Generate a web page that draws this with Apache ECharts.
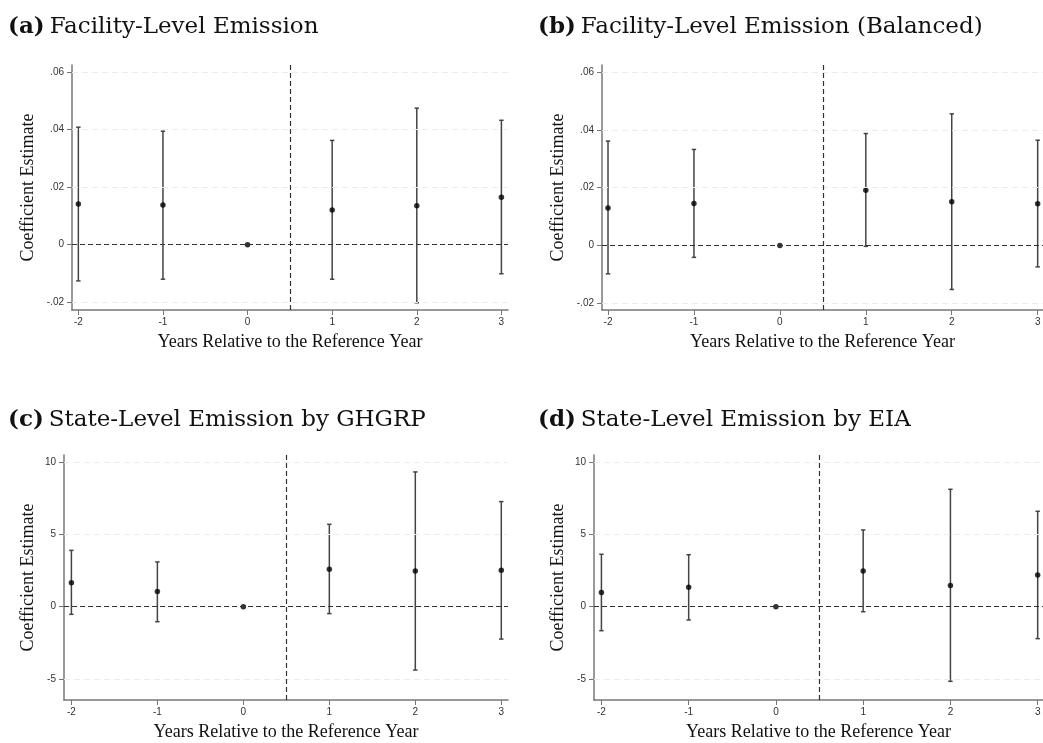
<!DOCTYPE html>
<html>
<head>
<meta charset="utf-8">
<script src="https://cdn.jsdelivr.net/npm/echarts@6/dist/echarts.min.js"></script>
<style>
  html, body { margin: 0; padding: 0; background: #fff; }
  #chart { width: 1043px; height: 743px; }
</style>
</head>
<body>
<div id="chart"></div>
<script>
// years relative to the reference year
var relYears = [-2, -1, 0, 1, 2, 3];
var xTickVals = [-2, -1, 0, 1, 2, 3];

// (a) facility-level emission
var estA = [0.0141, 0.0138, 0, 0.0120, 0.0135, 0.0165];
var loA  = [-0.0126, -0.0120, 0, -0.0120, -0.0202, -0.0101];
var hiA  = [0.0408, 0.0394, 0, 0.0362, 0.0474, 0.0432];

// (b) facility-level emission, balanced
var estB = [0.0130, 0.0145, 0, 0.0191, 0.0151, 0.0144];
var loB  = [-0.0098, -0.0041, 0, -0.0003, -0.0152, -0.0074];
var hiB  = [0.0361, 0.0332, 0, 0.0387, 0.0455, 0.0364];

// (c) state-level emission by GHGRP
var estC = [1.66, 1.04, 0, 2.58, 2.47, 2.51];
var loC  = [-0.53, -1.04, 0, -0.48, -4.38, -2.24];
var hiC  = [3.89, 3.09, 0, 5.69, 9.31, 7.26];

// (d) state-level emission by EIA
var estD = [0.97, 1.34, 0, 2.47, 1.47, 2.19];
var loD  = [-1.66, -0.92, 0, -0.35, -5.16, -2.21];
var hiD  = [3.62, 3.59, 0, 5.30, 8.11, 6.59];

var yTicksSmall = [-0.02, 0, 0.02, 0.04, 0.06];
var yTicksLarge = [-5, 0, 5, 10];

var panelTitles = [
  ['(a)', 'Facility-Level Emission'],
  ['(b)', 'Facility-Level Emission (Balanced)'],
  ['(c)', 'State-Level Emission by GHGRP'],
  ['(d)', 'State-Level Emission by EIA']
];

var panels = [
  {est: estA, lo: loA, hi: hiA, ticks: yTicksSmall, grid: {left: 72, top: 65, width: 436, height: 245}, xr: [-2.075, 3.078], yr: [-0.0227, 0.0624], tl: [8, 16], gap: 35},
  {est: estB, lo: loB, hi: hiB, ticks: yTicksSmall, grid: {left: 602, top: 65, width: 441, height: 245}, xr: [-2.07, 3.062], yr: [-0.0223, 0.0624], tl: [538, 16], gap: 35},
  {est: estC, lo: loC, hi: hiC, ticks: yTicksLarge, grid: {left: 64, top: 455, width: 444, height: 245}, xr: [-2.086, 3.078], yr: [-6.45, 10.48], tl: [8, 409], gap: 27},
  {est: estD, lo: loD, hi: hiD, ticks: yTicksLarge, grid: {left: 594, top: 455, width: 449, height: 245}, xr: [-2.085, 3.061], yr: [-6.45, 10.48], tl: [538, 409], gap: 27}
];

function stataLabel(v) {
  if (v === 0) return '0';
  var s = Math.abs(v) < 1 ? v.toFixed(2) : String(v);
  return s.replace(/^(-?)0\./, '$1.');
}

function renderErr(params, api) {
  var x = api.value(0), lo = api.value(1), hi = api.value(2);
  if (lo === hi) return;
  var pLo = api.coord([x, lo]);
  var pHi = api.coord([x, hi]);
  var w = 2.2;
  var st = {stroke: '#444', lineWidth: 1.5};
  return {
    type: 'group',
    children: [
      {type: 'line', shape: {x1: pLo[0], y1: pLo[1], x2: pHi[0], y2: pHi[1]}, style: st},
      {type: 'line', shape: {x1: pLo[0] - w, y1: pLo[1], x2: pLo[0] + w, y2: pLo[1]}, style: st},
      {type: 'line', shape: {x1: pHi[0] - w, y1: pHi[1], x2: pHi[0] + w, y2: pHi[1]}, style: st}
    ]
  };
}

var option = {
  animation: false,
  backgroundColor: '#fff',
  title: [],
  grid: [],
  xAxis: [],
  yAxis: [],
  series: []
};

panels.forEach(function (p, i) {
  option.title.push({
    left: p.tl[0],
    top: p.tl[1],
    padding: 0,
    text: '{b|' + panelTitles[i][0] + '} {n|' + panelTitles[i][1] + '}',
    textStyle: {
      rich: {
        b: {fontFamily: 'DejaVu Serif', fontWeight: 'bold', fontSize: 23, color: '#111'},
        n: {fontFamily: 'DejaVu Serif', fontWeight: 'normal', fontSize: 23, color: '#111'}
      }
    }
  });

  option.grid.push(Object.assign({outerBoundsMode: 'none', containLabel: false}, p.grid));

  option.xAxis.push({
    type: 'value',
    gridIndex: i,
    min: p.xr[0],
    max: p.xr[1],
    name: 'Years Relative to the Reference Year',
    nameLocation: 'middle',
    nameGap: 23,
    nameTextStyle: {fontFamily: 'Liberation Serif', fontSize: 18, color: '#111'},
    axisLine: {onZero: false, lineStyle: {color: '#777', width: 1.5}},
    axisTick: {show: true, length: 5, customValues: xTickVals, lineStyle: {color: '#777'}},
    axisLabel: {customValues: xTickVals, margin: 7, fontFamily: 'Liberation Sans', fontSize: 10, color: '#333'},
    splitLine: {show: false}
  });

  option.yAxis.push({
    type: 'value',
    gridIndex: i,
    min: p.yr[0],
    max: p.yr[1],
    name: 'Coefficient Estimate',
    nameLocation: 'middle',
    nameGap: p.gap,
    nameTextStyle: {fontFamily: 'Liberation Serif', fontSize: 18, color: '#111'},
    axisLine: {show: true, onZero: false, lineStyle: {color: '#777', width: 1.5}},
    axisTick: {show: true, length: 5, customValues: p.ticks, lineStyle: {color: '#777'}},
    axisLabel: {customValues: p.ticks, margin: 8, fontFamily: 'Liberation Sans', fontSize: 10, color: '#333', formatter: stataLabel},
    splitLine: {show: false}
  });

  // faint gridlines at the y ticks
  option.series.push({
    type: 'scatter',
    xAxisIndex: i,
    yAxisIndex: i,
    data: [],
    z: 1,
    markLine: {
      silent: true,
      symbol: ['none', 'none'],
      label: {show: false},
      lineStyle: {color: '#ececec', type: [6, 4], width: 1},
      data: p.ticks.filter(function (t) { return t !== 0; }).map(function (t) { return {yAxis: t}; })
    }
  });

  // reference lines: zero effect and treatment timing
  option.series.push({
    type: 'scatter',
    xAxisIndex: i,
    yAxisIndex: i,
    data: [],
    z: 2,
    markLine: {
      silent: true,
      symbol: ['none', 'none'],
      label: {show: false},
      lineStyle: {color: '#333', type: [5, 3], width: 1.2},
      data: [{yAxis: 0}, {xAxis: 0.5}]
    }
  });

  option.series.push({
    type: 'custom',
    xAxisIndex: i,
    yAxisIndex: i,
    z: 3,
    renderItem: renderErr,
    encode: {x: 0, y: [1, 2]},
    data: relYears.map(function (yr, k) { return [yr, p.lo[k], p.hi[k]]; })
  });

  option.series.push({
    type: 'scatter',
    xAxisIndex: i,
    yAxisIndex: i,
    z: 4,
    symbol: 'circle',
    symbolSize: 5.5,
    itemStyle: {color: '#000'},
    data: relYears.map(function (yr, k) { return [yr, p.est[k]]; })
  });
});

var chart = echarts.init(document.getElementById('chart'));
chart.setOption(option);
</script>
</body>
</html>
